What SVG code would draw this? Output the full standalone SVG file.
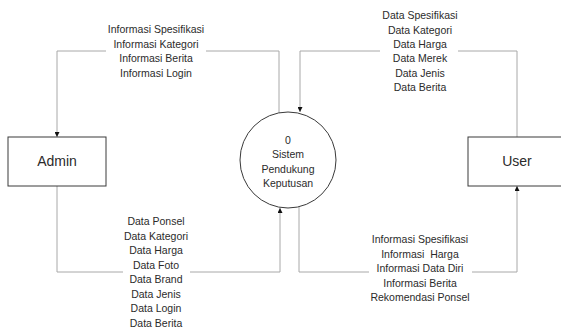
<svg xmlns="http://www.w3.org/2000/svg" width="561" height="329" viewBox="0 0 561 329">
  <style>
    .flow { fill: none; stroke: #a8a8a8; stroke-width: 1; }
    .box { fill: #ffffff; stroke: #3a3a3a; stroke-width: 1; }
    .proc { fill: #ffffff; stroke: #3a3a3a; stroke-width: 1; }
    text { font-family: "Liberation Sans", Arial, sans-serif; fill: #2b2b2b; text-anchor: middle; }
    .lbl { font-size: 10.5px; }
    .node { font-size: 14px; }
    .ptxt { font-size: 10.5px; }
    .bg { fill: #ffffff; }
  </style>
  <defs>
    <marker id="arrow" viewBox="0 0 6 6" refX="6" refY="3" markerWidth="5" markerHeight="5" orient="auto" markerUnits="userSpaceOnUse">
      <path d="M0,0 L6,3 L0,6 z" fill="#111111"/>
    </marker>
  </defs>

  <!-- data flows -->
  <g id="connectors">
    <!-- process to Admin -->
    <path class="flow" d="M279,113 V51 H57 V137" marker-end="url(#arrow)"/>
    <!-- User to process -->
    <path class="flow" d="M517,137 V51 H300 V112" marker-end="url(#arrow)"/>
    <!-- Admin to process -->
    <path class="flow" d="M57,186 V272 H280 V208" marker-end="url(#arrow)"/>
    <!-- process to User -->
    <path class="flow" d="M299,207 V272 H517 V186" marker-end="url(#arrow)"/>
  </g>

  <!-- flow labels -->
  <g id="label-admin-out">
    <rect class="bg" x="106" y="20" width="100" height="59"/>
    <text class="lbl" x="156" y="33">Informasi Spesifikasi</text>
    <text class="lbl" x="156" y="48">Informasi Kategori</text>
    <text class="lbl" x="156" y="62">Informasi Berita</text>
    <text class="lbl" x="156" y="77">Informasi Login</text>
  </g>
  <g id="label-user-in">
    <rect class="bg" x="380" y="6" width="78" height="86"/>
    <text class="lbl" x="420" y="19">Data Spesifikasi</text>
    <text class="lbl" x="420" y="34">Data Kategori</text>
    <text class="lbl" x="420" y="48">Data Harga</text>
    <text class="lbl" x="420" y="62">Data Merek</text>
    <text class="lbl" x="420" y="77">Data Jenis</text>
    <text class="lbl" x="420" y="91">Data Berita</text>
  </g>
  <g id="label-admin-in">
    <rect class="bg" x="123" y="213" width="67" height="115"/>
    <text class="lbl" x="156" y="225">Data Ponsel</text>
    <text class="lbl" x="156" y="240">Data Kategori</text>
    <text class="lbl" x="156" y="254">Data Harga</text>
    <text class="lbl" x="156" y="269">Data Foto</text>
    <text class="lbl" x="156" y="283">Data Brand</text>
    <text class="lbl" x="156" y="298">Data Jenis</text>
    <text class="lbl" x="156" y="312">Data Login</text>
    <text class="lbl" x="156" y="327">Data Berita</text>
  </g>
  <g id="label-user-out">
    <rect class="bg" x="369" y="231" width="103" height="72"/>
    <text class="lbl" x="420" y="243">Informasi Spesifikasi</text>
    <text class="lbl" x="420" y="258" xml:space="preserve">Informasi  Harga</text>
    <text class="lbl" x="420" y="272">Informasi Data Diri</text>
    <text class="lbl" x="420" y="287">Informasi Berita</text>
    <text class="lbl" x="420" y="301">Rekomendasi Ponsel</text>
  </g>

  <!-- external entities -->
  <g id="admin">
    <rect class="box" x="8" y="137" width="98" height="49"/>
    <text class="node" x="57" y="166">Admin</text>
  </g>
  <g id="user">
    <rect class="box" x="468" y="137" width="110" height="49"/>
    <text class="node" x="517" y="166">User</text>
  </g>

  <!-- process -->
  <g id="process-0">
    <circle class="proc" cx="288" cy="160" r="48"/>
    <text class="ptxt" x="288" y="144">0</text>
    <text class="ptxt" x="288" y="158">Sistem</text>
    <text class="ptxt" x="288" y="173">Pendukung</text>
    <text class="ptxt" x="288" y="187">Keputusan</text>
  </g>
</svg>
